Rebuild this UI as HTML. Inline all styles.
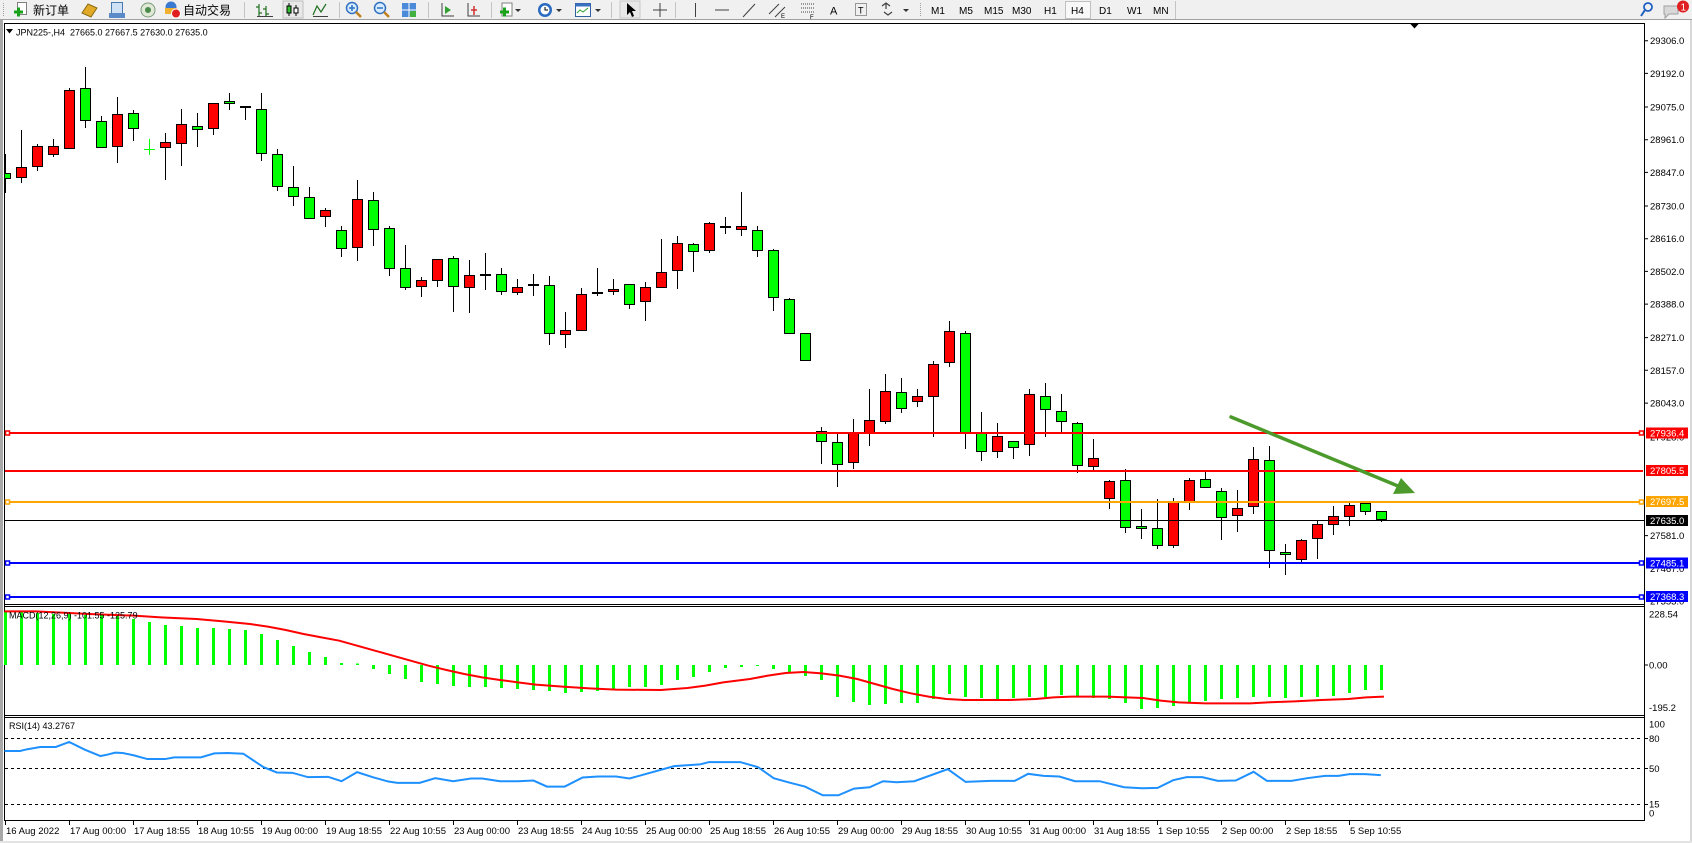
<!DOCTYPE html>
<html><head><meta charset="utf-8"><style>
html,body{margin:0;padding:0;width:1692px;height:843px;overflow:hidden;background:#fff}
svg{display:block}
text{font-family:"Liberation Sans","Noto Sans CJK SC",sans-serif;fill:#000}
</style></head><body>
<svg width="1692" height="843" viewBox="0 0 1692 843" xmlns="http://www.w3.org/2000/svg">
<defs><clipPath id="cm"><rect x="5" y="24" width="1639" height="580"/></clipPath></defs>
<rect width="1692" height="843" fill="#fff"/>

<!-- ===== TOOLBAR ===== -->
<rect x="0" y="0" width="1692" height="19" fill="#f0f0f0"/>
<line x1="0" y1="19.5" x2="1692" y2="19.5" stroke="#a0a0a0"/>
<line x1="3.5" y1="3" x2="3.5" y2="17" stroke="#a0a0a0" stroke-dasharray="1 1"/>
<rect x="17.5" y="2.5" width="9" height="12" fill="#fff" stroke="#808080"/>
<path d="M14 12h9M18.5 7.5v9" stroke="#1aa31a" stroke-width="3"/>
<text x="33" y="14.5" font-size="12">新订单</text>
<path d="M82 13l6-9 9 4-6 9z" fill="#e0aa28" stroke="#8a6a10"/>
<rect x="111.5" y="2.5" width="11" height="12" fill="#cfe2f5" stroke="#4a78b0"/>
<rect x="109" y="13" width="16" height="5" fill="#5a8ac8"/>
<circle cx="148" cy="10" r="7" fill="#dfe9d6" stroke="#7a9a7a"/>
<circle cx="148" cy="10" r="3" fill="#4a8a4a"/>
<circle cx="171" cy="7" r="5.5" fill="#3a7ad0"/>
<rect x="165" y="8" width="12" height="6" fill="#f0b030"/>
<circle cx="176" cy="13.5" r="4.5" fill="#e02020" stroke="#fff"/>
<text x="183" y="14.5" font-size="12">自动交易</text>
<g stroke="#c4c4c4"><line x1="244.5" y1="2" x2="244.5" y2="18"/><line x1="339.5" y1="2" x2="339.5" y2="18"/><line x1="428.5" y1="2" x2="428.5" y2="18"/><line x1="491.5" y1="2" x2="491.5" y2="18"/><line x1="611.5" y1="2" x2="611.5" y2="18"/><line x1="675.5" y1="2" x2="675.5" y2="18"/><line x1="1175.5" y1="1" x2="1175.5" y2="19"/></g>
<line x1="920.5" y1="3" x2="920.5" y2="17" stroke="#a0a0a0" stroke-dasharray="1 1"/>
<path d="M259 4v12M259 7h-3M259 13h3M266 6v10M266 9h-3M266 14h3" stroke="#207020" stroke-width="1.2" fill="none"/>
<path d="M257 16.5h16" stroke="#404040"/>
<rect x="283" y="1" width="20" height="17" fill="#e8e8e8" stroke="#c0c0c0"/>
<path d="M289 3v13M296 5v11" stroke="#000"/><rect x="287" y="6" width="4" height="7" fill="#30c030" stroke="#000"/><rect x="294" y="8" width="4" height="5" fill="#fff" stroke="#000"/>
<path d="M313 15l4-9 4 6 5-8" stroke="#207020" fill="none" stroke-width="1.2"/><path d="M313 16.5h15" stroke="#404040"/>
<circle cx="352" cy="8" r="5.5" fill="#d8ecff" stroke="#3070c0" stroke-width="1.5"/><path d="M349 8h6M352 5v6" stroke="#3070c0" stroke-width="1.5"/><path d="M356 12l5 5" stroke="#c08020" stroke-width="2.5"/>
<circle cx="380" cy="8" r="5.5" fill="#d8ecff" stroke="#3070c0" stroke-width="1.5"/><path d="M377 8h6" stroke="#3070c0" stroke-width="1.5"/><path d="M384 12l5 5" stroke="#c08020" stroke-width="2.5"/>
<rect x="402" y="3" width="14" height="14" fill="#4a8ad8"/><path d="M402 10h14M409 3v14" stroke="#fff"/><rect x="410" y="11" width="6" height="6" fill="#40b040"/>
<path d="M442 3v13h12" stroke="#404040" fill="none"/><path d="M445 6l6 4-6 4z" fill="#30a030"/>
<path d="M468 3v13h12" stroke="#404040" fill="none"/><path d="M474 6v9M471 10h6" stroke="#d03030" stroke-width="1.5"/>
<rect x="502" y="3" width="10" height="13" fill="#fff" stroke="#808080"/><path d="M500 12h9M504.5 7.5v9" stroke="#1aa31a" stroke-width="3"/><path d="M515 9h6l-3 3z" fill="#333"/>
<circle cx="545" cy="10" r="7" fill="#2a6ac0"/><circle cx="545" cy="10" r="4.5" fill="#fff"/><path d="M545 7v3h3" stroke="#000" fill="none"/><path d="M556 9h6l-3 3z" fill="#333"/>
<rect x="575.5" y="3.5" width="15" height="13" fill="#fff" stroke="#3060a0"/><rect x="575.5" y="3.5" width="15" height="3" fill="#3a70c0"/><path d="M577 13l3-3 3 2 5-4" stroke="#30a030" fill="none"/><path d="M595 9h6l-3 3z" fill="#333"/>
<rect x="620" y="1" width="20" height="17" fill="#e8e8e8" stroke="#c8c8c8"/>
<path d="M627 3v12l3-3 2 5 2-1-2-5h4z" fill="#000"/>
<path d="M660 3v14M653 10h14" stroke="#404040"/>
<path d="M695.5 3v14" stroke="#404040"/><path d="M715 10h14" stroke="#404040"/><path d="M743 17l12-13" stroke="#404040"/>
<path d="M769 14l10-10M775 17l10-10" stroke="#404040"/><text x="781" y="18" font-size="6">E</text>
<path d="M801 4h14M801 8h14M801 12h14" stroke="#404040" stroke-dasharray="1 1"/><text x="810" y="19" font-size="6">F</text>
<text x="830" y="14.5" font-size="11" fill="#404040">A</text>
<rect x="855.5" y="3.5" width="11" height="12" fill="none" stroke="#404040" stroke-dasharray="1 1"/><text x="858" y="13.5" font-size="9">T</text>
<path d="M882 6l4-3 4 3M886 3v6M884 12l4 3 4-3" stroke="#404040" fill="none" stroke-width="1.2"/>
<path d="M903 9h6l-3 3z" fill="#333"/>
<rect x="1065.5" y="1.5" width="25" height="17" fill="#f8f8f8" stroke="#c0c0c0"/>
<g font-size="10" fill="#333"><text x="931" y="14">M1</text><text x="959" y="14">M5</text><text x="984" y="14">M15</text><text x="1012" y="14">M30</text><text x="1044" y="14">H1</text><text x="1071" y="14">H4</text><text x="1099" y="14">D1</text><text x="1127" y="14">W1</text><text x="1153" y="14">MN</text></g>
<circle cx="1648" cy="7" r="4" fill="none" stroke="#2060c0" stroke-width="1.8"/><path d="M1645 10l-4 6" stroke="#2060c0" stroke-width="2"/>
<path d="M1664 6h14v8h-9l-4 4v-4h-1z" fill="#d8d8d8" stroke="#a0a0a0"/>
<circle cx="1683" cy="6.5" r="6" fill="#e02020"/><text x="1680.5" y="10.5" font-size="10" fill="#fff" style="fill:#fff">1</text>

<!-- ===== FRAME ===== -->
<rect x="0" y="20" width="3" height="823" fill="#a8a8a8"/>
<rect x="1690" y="20" width="2" height="823" fill="#d8d8d8"/>
<rect x="0" y="841" width="1692" height="2" fill="#e4e4e4"/>
<g stroke="#000" fill="none">
<line x1="4.5" y1="23" x2="4.5" y2="821"/>
<line x1="1644.5" y1="23" x2="1644.5" y2="821"/>
<line x1="4" y1="23.5" x2="1645" y2="23.5"/>
<line x1="4" y1="604.5" x2="1645" y2="604.5"/>
<line x1="4" y1="606.5" x2="1645" y2="606.5"/>
<line x1="4" y1="715.5" x2="1645" y2="715.5"/>
<line x1="4" y1="717.5" x2="1645" y2="717.5"/>
<line x1="4" y1="820.5" x2="1645" y2="820.5"/>
</g>
<path d="M1410 23.5h9l-4.5 5z" fill="#000"/>
<path d="M6 29h7l-3.5 4.5z" fill="#000"/>
<text x="16" y="35.5" font-size="9" xml:space="preserve">JPN225-,H4  27665.0 27667.5 27630.0 27635.0</text>

<!-- ===== CANDLES ===== -->
<g clip-path="url(#cm)">
<path stroke="#000" stroke-width="1" fill="none" d="M5.5 154V193M21.5 130V183M37.5 144V171M53.5 139V157M69.5 88V149M85.5 67V128M101.5 116V148M117.5 97V163M133.5 110V141M165.5 133V180M181.5 109V166M197.5 113V147M213.5 103V135M229.5 93V110M245.5 107V120M261.5 93V161M277.5 149V191M293.5 166V206M309.5 187V219M325.5 208V227M341.5 226V257M357.5 180V261M373.5 192V246M389.5 226V276M405.5 245V290M421.5 277V297M437.5 259V287M453.5 256V312M469.5 260V313M485.5 253V290M501.5 268V295M517.5 279V295M533.5 274V296M549.5 276V345M565.5 312V348M581.5 288V331M597.5 268V296M613.5 279V295M629.5 284V309M645.5 282V321M661.5 239V288M677.5 236V289M693.5 243V272M709.5 222V253M725.5 217V234M741.5 192V236M757.5 226V257M773.5 249V311M789.5 298V334M805.5 333V361M821.5 427V464M837.5 433V487M853.5 419V469M869.5 389V446M885.5 374V424M901.5 378V413M917.5 389V407M933.5 361V437M949.5 321V367M965.5 331V449M981.5 412V461M997.5 423V458M1013.5 441V459M1029.5 389V456M1045.5 383V437M1061.5 394V432M1077.5 422V473M1093.5 439V470M1109.5 480V509M1125.5 469V533M1141.5 509V539M1157.5 499V549M1173.5 498V548M1189.5 478V510M1205.5 471V488M1221.5 488V540M1237.5 490V532M1253.5 447V514M1269.5 446V568M1285.5 544V575M1301.5 539V562M1317.5 521V559M1333.5 506V535M1349.5 503V526M1365.5 503V515M1381.5 511V522"/>
<g fill="#00ff00" stroke="#000" stroke-width="1">
<rect x="0.5" y="173.5" width="10" height="5"/><rect x="80.5" y="88.5" width="10" height="32"/><rect x="96.5" y="121.5" width="10" height="26"/><rect x="128.5" y="113.5" width="10" height="15"/><rect x="192.5" y="126.5" width="10" height="3"/><rect x="224.5" y="101.5" width="10" height="2"/><rect x="256.5" y="109.5" width="10" height="44"/><rect x="272.5" y="154.5" width="10" height="32"/><rect x="288.5" y="187.5" width="10" height="9"/><rect x="304.5" y="197.5" width="10" height="21"/><rect x="336.5" y="230.5" width="10" height="18"/><rect x="368.5" y="200.5" width="10" height="29"/><rect x="384.5" y="228.5" width="10" height="40"/><rect x="400.5" y="268.5" width="10" height="19"/><rect x="448.5" y="258.5" width="10" height="28"/><rect x="496.5" y="274.5" width="10" height="17"/><rect x="544.5" y="285.5" width="10" height="48"/><rect x="624.5" y="284.5" width="10" height="20"/><rect x="688.5" y="244.5" width="10" height="7"/><rect x="752.5" y="230.5" width="10" height="20"/><rect x="768.5" y="250.5" width="10" height="47"/><rect x="784.5" y="299.5" width="10" height="34"/><rect x="800.5" y="333.5" width="10" height="27"/><rect x="816.5" y="431.5" width="10" height="10"/><rect x="832.5" y="442.5" width="10" height="22"/><rect x="896.5" y="392.5" width="10" height="16"/><rect x="960.5" y="333.5" width="10" height="100"/><rect x="976.5" y="433.5" width="10" height="18"/><rect x="1008.5" y="441.5" width="10" height="6"/><rect x="1040.5" y="396.5" width="10" height="13"/><rect x="1056.5" y="411.5" width="10" height="10"/><rect x="1072.5" y="423.5" width="10" height="42"/><rect x="1120.5" y="480.5" width="10" height="47"/><rect x="1136.5" y="526.5" width="10" height="2"/><rect x="1152.5" y="528.5" width="10" height="17"/><rect x="1200.5" y="479.5" width="10" height="8"/><rect x="1216.5" y="491.5" width="10" height="26"/><rect x="1264.5" y="460.5" width="10" height="90"/><rect x="1280.5" y="552.5" width="10" height="2"/><rect x="1360.5" y="503.5" width="10" height="8"/><rect x="1376.5" y="511.5" width="10" height="8"/>
</g>
<g fill="#ff0000" stroke="#000" stroke-width="1">
<rect x="16.5" y="167.5" width="10" height="10"/><rect x="32.5" y="146.5" width="10" height="20"/><rect x="48.5" y="146.5" width="10" height="8"/><rect x="64.5" y="90.5" width="10" height="58"/><rect x="112.5" y="114.5" width="10" height="32"/><rect x="160.5" y="142.5" width="10" height="5"/><rect x="176.5" y="124.5" width="10" height="19"/><rect x="208.5" y="103.5" width="10" height="25"/><rect x="320.5" y="210.5" width="10" height="6"/><rect x="352.5" y="199.5" width="10" height="48"/><rect x="416.5" y="280.5" width="10" height="6"/><rect x="432.5" y="259.5" width="10" height="21"/><rect x="464.5" y="275.5" width="10" height="12"/><rect x="512.5" y="287.5" width="10" height="5"/><rect x="560.5" y="330.5" width="10" height="4"/><rect x="576.5" y="294.5" width="10" height="36"/><rect x="608.5" y="289.5" width="10" height="2"/><rect x="640.5" y="287.5" width="10" height="14"/><rect x="656.5" y="272.5" width="10" height="15"/><rect x="672.5" y="243.5" width="10" height="27"/><rect x="704.5" y="223.5" width="10" height="27"/><rect x="720.5" y="226.5" width="10" height="1"/><rect x="736.5" y="226.5" width="10" height="3"/><rect x="848.5" y="433.5" width="10" height="29"/><rect x="864.5" y="420.5" width="10" height="12"/><rect x="880.5" y="391.5" width="10" height="30"/><rect x="912.5" y="396.5" width="10" height="5"/><rect x="928.5" y="364.5" width="10" height="32"/><rect x="944.5" y="331.5" width="10" height="31"/><rect x="992.5" y="436.5" width="10" height="15"/><rect x="1024.5" y="394.5" width="10" height="50"/><rect x="1088.5" y="458.5" width="10" height="8"/><rect x="1104.5" y="481.5" width="10" height="17"/><rect x="1168.5" y="502.5" width="10" height="43"/><rect x="1184.5" y="480.5" width="10" height="22"/><rect x="1232.5" y="508.5" width="10" height="7"/><rect x="1248.5" y="459.5" width="10" height="47"/><rect x="1296.5" y="540.5" width="10" height="19"/><rect x="1312.5" y="524.5" width="10" height="14"/><rect x="1328.5" y="516.5" width="10" height="8"/><rect x="1344.5" y="505.5" width="10" height="11"/>
</g>
<path stroke="#000" stroke-width="2" d="M240 107h11M480 275h11M528 285h11M592 293h11"/>
<path stroke="#00ff00" stroke-width="1" d="M144 149.5h11M149.5 139v16"/>
</g>

<!-- ===== HORIZONTAL LINES ===== -->
<g stroke-width="2" fill="none">
<line x1="5" y1="433" x2="1640" y2="433" stroke="#ff0000"/>
<line x1="5" y1="471" x2="1643" y2="471" stroke="#ff0000"/>
<line x1="5" y1="502" x2="1640" y2="502" stroke="#ffa500"/>
<line x1="5" y1="563" x2="1640" y2="563" stroke="#0000ff"/>
<line x1="5" y1="597" x2="1640" y2="597" stroke="#0000ff"/>
</g>
<line x1="5" y1="520.5" x2="1644" y2="520.5" stroke="#000" stroke-width="1"/>
<g fill="#fff" stroke-width="1.5">
<rect x="5.5" y="431" width="4" height="4" stroke="#ff0000"/><rect x="1639.5" y="431" width="4" height="4" stroke="#ff0000"/>
<rect x="5.5" y="500" width="4" height="4" stroke="#ffa500"/><rect x="1639.5" y="500" width="4" height="4" stroke="#ffa500"/>
<rect x="5.5" y="561" width="4" height="4" stroke="#0000ff"/><rect x="1639.5" y="561" width="4" height="4" stroke="#0000ff"/>
<rect x="5.5" y="595" width="4" height="4" stroke="#0000ff"/><rect x="1639.5" y="595" width="4" height="4" stroke="#0000ff"/>
</g>

<!-- arrow -->
<line x1="1231" y1="417" x2="1398" y2="486" stroke="#4b9a2b" stroke-width="3.5" stroke-linecap="round"/>
<polygon points="1415,493 1393,494 1401,478" fill="#4b9a2b"/>

<!-- ===== PRICE AXIS ===== -->
<path stroke="#000" d="M1645 40.7h3M1645 73.4h3M1645 107h3M1645 139.7h3M1645 172.4h3M1645 206h3M1645 238.7h3M1645 271.4h3M1645 304.1h3M1645 337.6h3M1645 370.3h3M1645 403.1h3M1645 535.6h3M1645 665h3M1645 738.5h3M1645 768.5h3M1645 804.5h3"/>
<g font-size="9.5">
<text x="1650" y="44.2">29306.0</text><text x="1650" y="76.9">29192.0</text><text x="1650" y="110.5">29075.0</text><text x="1650" y="143.2">28961.0</text><text x="1650" y="175.9">28847.0</text><text x="1650" y="209.5">28730.0</text><text x="1650" y="242.2">28616.0</text><text x="1650" y="274.9">28502.0</text><text x="1650" y="307.6">28388.0</text><text x="1650" y="341.1">28271.0</text><text x="1650" y="373.8">28157.0</text><text x="1650" y="406.6">28043.0</text><text x="1650" y="440.3">27928.0</text><text x="1650" y="539.1">27581.0</text><text x="1650" y="571.8">27467.0</text><text x="1650" y="604.5">27353.0</text>
</g>
<rect x="1646" y="427.5" width="42" height="11" fill="#ff0000"/>
<rect x="1646" y="465" width="42" height="11" fill="#ff0000"/>
<rect x="1646" y="496" width="42" height="11" fill="#ffa500"/>
<rect x="1646" y="515" width="42" height="11" fill="#000"/>
<rect x="1646" y="557.5" width="42" height="11" fill="#0000ff"/>
<rect x="1646" y="591" width="42" height="11" fill="#0000ff"/>
<g font-size="9.5" style="fill:#fff">
<text x="1650" y="436.6" style="fill:#fff">27936.4</text>
<text x="1650" y="474.1" style="fill:#fff">27805.5</text>
<text x="1650" y="505.1" style="fill:#fff">27697.5</text>
<text x="1650" y="524.1" style="fill:#fff">27635.0</text>
<text x="1650" y="566.6" style="fill:#fff">27485.1</text>
<text x="1650" y="600.1" style="fill:#fff">27368.3</text>
</g>
<g font-size="9.5">
<text x="1649" y="617.5">228.54</text><text x="1649" y="668.5">0.00</text><text x="1649" y="711">-195.2</text>
<text x="1649" y="727.5">100</text><text x="1649" y="742">80</text><text x="1649" y="772">50</text><text x="1649" y="807.5">15</text><text x="1649" y="816.5">0</text>
</g>

<!-- ===== MACD ===== -->
<path stroke="#00ff00" stroke-width="3" fill="none" d="M5.5 612V665M21.5 612V665M37.5 613V665M53.5 614V665M69.5 614V665M85.5 615V665M101.5 615V665M117.5 616V665M133.5 619V665M149.5 622V665M165.5 625V665M181.5 626V665M197.5 628V665M213.5 628V665M229.5 629V665M245.5 630V665M261.5 634V665M277.5 640V665M293.5 646V665M309.5 652V665M325.5 657V665M341.5 663V665M357.5 663.5V665M373.5 665V669M389.5 665V674M405.5 665V679M421.5 665V682M437.5 665V684M453.5 665V686M469.5 665V687M485.5 665V687M501.5 665V688M517.5 665V689M533.5 665V690M549.5 665V691M565.5 665V693M581.5 665V692M597.5 665V691M613.5 665V689M629.5 665V687M645.5 665V687M661.5 665V685M677.5 665V680M693.5 665V677M709.5 665V672M725.5 665V668M741.5 665V667M757.5 665V666M773.5 665V669M789.5 665V672M805.5 665V676M821.5 665V680M837.5 665V697M853.5 665V702M869.5 665V705M885.5 665V704M901.5 665V703M917.5 665V703M933.5 665V699M949.5 665V694M965.5 665V697M981.5 665V698M997.5 665V699M1013.5 665V698M1029.5 665V697M1045.5 665V697M1061.5 665V695M1077.5 665V697M1093.5 665V698M1109.5 665V699M1125.5 665V703M1141.5 665V709M1157.5 665V708M1173.5 665V706M1189.5 665V703M1205.5 665V701M1221.5 665V699M1237.5 665V698M1253.5 665V697M1269.5 665V697M1285.5 665V698M1301.5 665V697M1317.5 665V697M1333.5 665V696M1349.5 665V693M1365.5 665V690M1381.5 665V690"/>
<polyline transform="translate(0 604) scale(0.89286 0.33333)" vector-effect="non-scaling-stroke" fill="none" stroke="#ff0000" stroke-width="2" points="5,22 40,22 100,30 150,35 180,40 220,45 250,52 280,60 300,68 320,78 340,90 360,100 380,110 400,125 420,140 440,155 460,170 480,185 500,198 520,210 540,220 560,228 580,235 600,242 630,248 660,253 690,257 740,258 770,252 790,245 810,235 840,225 860,215 880,207 900,204 920,208 940,215 960,225 980,240 1000,255 1020,268 1040,278 1060,285 1080,288 1130,288 1160,285 1180,280 1200,278 1240,278 1280,282 1300,290 1320,295 1350,298 1400,298 1420,295 1450,292 1480,288 1510,285 1530,280 1550,278"/>
<text x="9" y="618.5" font-size="9">MACD(12,26,9) -101.55 -125.79</text>

<!-- ===== RSI ===== -->
<g stroke="#000" stroke-dasharray="3 3" stroke-width="1">
<line x1="5" y1="738.5" x2="1642" y2="738.5"/>
<line x1="5" y1="768.5" x2="1642" y2="768.5"/>
<line x1="5" y1="804.5" x2="1642" y2="804.5"/>
</g>
<polyline transform="translate(0 700) scale(0.44643 0.33557)" vector-effect="non-scaling-stroke" fill="none" stroke="#1e90ff" stroke-width="2" points="10,152 45,152 60,147 90,140 125,140 155,125 190,148 225,167 240,163 258,157 275,158 300,165 330,176 370,176 390,171 450,171 480,159 510,158 545,160 590,200 620,216 655,217 690,230 735,229 765,242 800,215 835,230 870,243 890,247 940,247 975,233 1015,242 1055,234 1080,234 1120,242 1160,242 1195,240 1225,258 1265,258 1305,231 1340,228 1380,228 1410,234 1440,223 1510,197 1568,192"/>
<polyline transform="translate(700 700) scale(0.44643 0.33557)" vector-effect="non-scaling-stroke" fill="none" stroke="#1e90ff" stroke-width="2" points="0,192 20,185 90,185 130,200 165,233 200,246 235,258 275,284 310,284 345,264 380,260 410,242 440,245 480,242 555,206 595,244 650,241 705,241 735,220 770,226 805,228 840,242 895,242 950,260 990,263 1025,262 1060,239 1090,230 1125,230 1160,241 1200,240 1240,214 1270,241 1325,241 1360,233 1400,226 1430,226 1455,221 1490,221 1525,224"/>
<text x="9" y="729" font-size="9">RSI(14) 43.2767</text>

<!-- ===== TIME AXIS ===== -->
<path stroke="#000" d="M5.5 821v4M69.5 821v4M133.5 821v4M197.5 821v4M261.5 821v4M325.5 821v4M389.5 821v4M453.5 821v4M517.5 821v4M581.5 821v4M645.5 821v4M709.5 821v4M773.5 821v4M837.5 821v4M901.5 821v4M965.5 821v4M1029.5 821v4M1093.5 821v4M1157.5 821v4M1221.5 821v4M1285.5 821v4M1349.5 821v4"/>
<g font-size="9.5">
<text x="6" y="834">16 Aug 2022</text><text x="70" y="834">17 Aug 00:00</text><text x="134" y="834">17 Aug 18:55</text><text x="198" y="834">18 Aug 10:55</text><text x="262" y="834">19 Aug 00:00</text><text x="326" y="834">19 Aug 18:55</text><text x="390" y="834">22 Aug 10:55</text><text x="454" y="834">23 Aug 00:00</text><text x="518" y="834">23 Aug 18:55</text><text x="582" y="834">24 Aug 10:55</text><text x="646" y="834">25 Aug 00:00</text><text x="710" y="834">25 Aug 18:55</text><text x="774" y="834">26 Aug 10:55</text><text x="838" y="834">29 Aug 00:00</text><text x="902" y="834">29 Aug 18:55</text><text x="966" y="834">30 Aug 10:55</text><text x="1030" y="834">31 Aug 00:00</text><text x="1094" y="834">31 Aug 18:55</text><text x="1158" y="834">1 Sep 10:55</text><text x="1222" y="834">2 Sep 00:00</text><text x="1286" y="834">2 Sep 18:55</text><text x="1350" y="834">5 Sep 10:55</text>
</g>
</svg>
</body></html>
